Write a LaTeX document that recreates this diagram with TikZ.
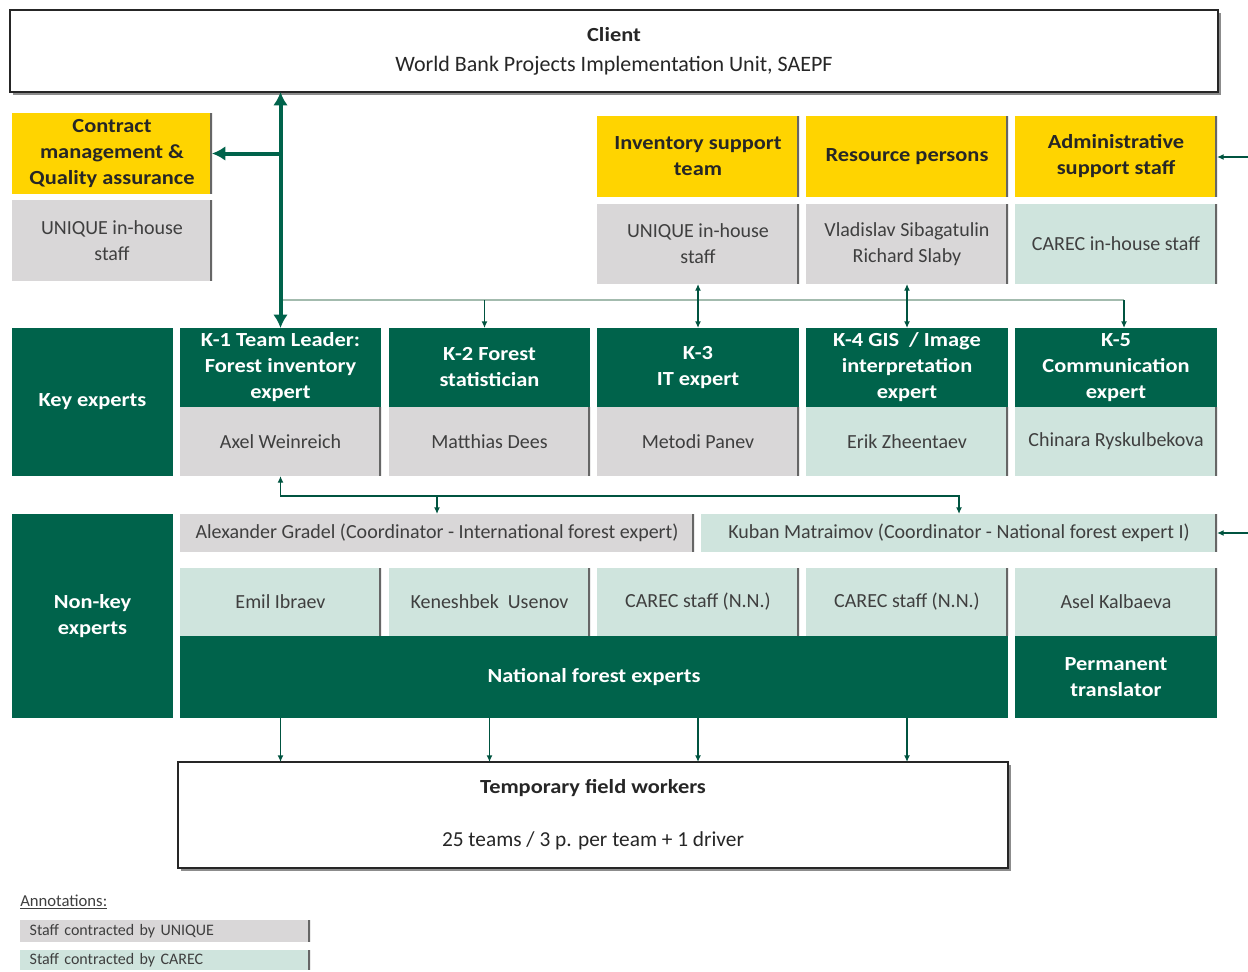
\documentclass[tikz,border=0pt]{standalone}
\usepackage{fontspec}
\setmainfont{Carlito}[BoldFeatures={FakeStretch=1.12}]
\usetikzlibrary{arrows.meta}
\definecolor{dgreen}{HTML}{00634B}
\definecolor{ylw}{HTML}{FFD400}
\definecolor{gry}{HTML}{D9D7D8}
\definecolor{ltteal}{HTML}{CFE4DD}
\definecolor{txtgray}{HTML}{3F3F3F}
\definecolor{busgray}{HTML}{A3BBAE}
\newcommand{\fsmain}{\fontsize{15}{19.5}\selectfont}
\newcommand{\fsbig}{\fontsize{16.5}{19.5}\selectfont}
\newcommand{\bx}[7]{\node[#6, minimum width={(#4-#2)*0.75pt}, minimum height={(#5-#3)*0.75pt}] (#1) at ({(#2+#4)/2},{(#3+#5)/2}) {#7};}
\tikzset{
  base/.style={inner sep=2pt, outer sep=0pt, align=center, font=\fsmain},
  redge/.style={path picture={\draw[black!60, line width=2.4pt] (path picture bounding box.north east) -- (path picture bounding box.south east);}},
  ybox/.style={base, redge, fill=ylw, text=black!85, font=\fsmain\bfseries},
  gbox/.style={base, redge, fill=gry, text=txtgray},
  tbox/.style={base, redge, fill=ltteal, text=txtgray},
  ghead/.style={base, fill=dgreen, text=white, font=\fsmain\bfseries},
  glabel/.style={base, fill=dgreen, text=white, font=\fsmain\bfseries},
  framebox/.style={base, draw=black!85, line width=1.6pt, fill=white, text=black!85},
  legend/.style={inner xsep=7pt, inner ysep=0pt, outer sep=0pt, text width=203pt, align=left, font=\fontsize{12}{14}\selectfont},
  thickarr/.style={draw=dgreen, line width=3pt},
  thinarr/.style={draw=dgreen!85!black, line width=1.1pt},
  busline/.style={draw=busgray, line width=1.6pt},
}
\begin{document}
\begin{tikzpicture}[x=0.75pt, y=-0.75pt]
\fill[white] (0,0) rectangle (1248,971);
\useasboundingbox (0,0) rectangle (1248,971);

% client
\fill[black!45] (13,13) rectangle (1221,95);
\bx{client}{10}{10}{1218}{92}{framebox}{\textbf{Client}\\[3pt]{\fsbig World Bank Projects Implementation Unit, SAEPF}}

% top support boxes
\bx{cmq}{12}{113}{212}{194}{ybox}{Contract\\management \&\\Quality assurance}
\bx{cmqs}{12}{200}{212}{281}{gbox}{UNIQUE in-house\\staff}
\bx{ist}{597}{116}{799}{197}{ybox}{Inventory support\\team}
\bx{ists}{597}{204}{799}{284}{gbox}{UNIQUE in-house\\staff}
\bx{rp}{806}{116}{1008}{197}{ybox}{Resource persons}
\bx{rps}{806}{204}{1008}{284}{gbox}{Vladislav Sibagatulin\\Richard Slaby}
\bx{adm}{1015}{116}{1217}{197}{ybox}{Administrative\\support staff}
\bx{adms}{1015}{204}{1217}{284}{tbox}{CAREC in-house staff}

% key experts
\bx{key}{12}{328}{173}{476}{glabel}{Key experts}
\bx{k1}{180}{328}{381}{407}{ghead}{K-1 Team Leader:\\Forest inventory\\expert}
\bx{k1s}{180}{407}{381}{476}{gbox}{Axel Weinreich}
\bx{k2}{389}{328}{590}{407}{ghead}{K-2 Forest\\statistician}
\bx{k2s}{389}{407}{590}{476}{gbox}{Matthias Dees}
\bx{k3}{597}{328}{799}{407}{ghead}{K-3\\IT expert}
\bx{k3s}{597}{407}{799}{476}{gbox}{Metodi Panev}
\bx{k4}{806}{328}{1008}{407}{ghead}{K-4 GIS~ / Image\\interpretation\\expert}
\bx{k4s}{806}{407}{1008}{476}{tbox}{Erik Zheentaev}
\bx{k5}{1015}{328}{1217}{407}{ghead}{K-5\\Communication\\expert}
\bx{k5s}{1015}{407}{1217}{476}{tbox}{Chinara Ryskulbekova}

% non-key experts
\bx{nonkey}{12}{514}{173}{718}{glabel}{Non-key\\experts}
\bx{alex}{180}{514}{694}{552}{gbox}{Alexander Gradel (Coordinator - International forest expert)}
\bx{kuban}{701}{514}{1217}{552}{tbox}{Kuban Matraimov (Coordinator - National forest expert I)}
\bx{emil}{180}{568}{381}{636}{tbox}{Emil Ibraev}
\bx{kene}{389}{568}{590}{636}{tbox}{Keneshbek~ Usenov}
\bx{cs1}{597}{568}{799}{636}{tbox}{CAREC staff (N.N.)}
\bx{cs2}{806}{568}{1008}{636}{tbox}{CAREC staff (N.N.)}
\bx{asel}{1015}{568}{1217}{636}{tbox}{Asel Kalbaeva}
\bx{nfe}{180}{636}{1008}{718}{ghead}{National forest experts}
\bx{pt}{1015}{636}{1217}{718}{ghead}{Permanent\\translator}

% temporary field workers
\fill[black!45] (181,765) rectangle (1011,871);
\bx{tfw}{178}{762}{1008}{868}{framebox}{\textbf{Temporary field workers}\\[20pt]{\fontsize{16}{19.5}\selectfont 25 teams / 3 p. per team + 1 driver}}

% annotations
\node[anchor=west, inner sep=0pt, text=txtgray, font=\fontsize{12.5}{14}\selectfont] (ann) at (20,902) {\underline{Annotations:}};
\bx{leg1}{20}{920}{310}{942}{gbox, legend}{Staff contracted by UNIQUE}
\bx{leg2}{20}{950}{310}{970}{tbox, legend}{Staff contracted by CAREC}

% connectors
\coordinate (bus) at (600,300);
\coordinate (bus2) at (600,496);
\coordinate (r1) at (1248,157);
\coordinate (r2) at (1248,533);
\coordinate (k2in) at ([xshift=-3.75pt]k2.north);
\coordinate (k5in) at ([xshift=6pt]k5.north);

\draw[busline] (k1.north |- bus) -- (k5in |- bus);
\draw[thinarr, -{Latex[length=5pt,width=4.5pt]}] (k5in |- bus) -- (k5in);
\draw[thinarr, -{Latex[length=5pt,width=4.5pt]}] (k2in |- bus) -- (k2in);
\draw[thinarr, {Latex[length=5pt,width=4.5pt]}-{Latex[length=5pt,width=4.5pt]}] (ists.south) -- (k3.north);
\draw[thinarr, {Latex[length=5pt,width=4.5pt]}-{Latex[length=5pt,width=4.5pt]}] (rps.south) -- (k4.north);

\draw[thickarr, {Latex[length=10pt,width=11pt]}-{Latex[length=10pt,width=11pt]}] (k1.north |- client.south) -- (k1.north);
\draw[thickarr, -{Latex[length=10pt,width=11pt]}] (k1.north |- cmq.east) -- (cmq.east);

\draw[thinarr, {Latex[length=5pt,width=4.5pt]}-{Latex[length=5pt,width=4.5pt]}] (k1s.south) |- (bus2) -| (kuban.north);
\draw[thinarr, -{Latex[length=5pt,width=4.5pt]}] (alex.north |- bus2) -- (alex.north);

\draw[thinarr, -{Latex[length=5pt,width=4.5pt]}] (r1) -- (adm.east |- r1);
\draw[thinarr, -{Latex[length=5pt,width=4.5pt]}] (r2) -- (kuban.east |- r2);

\foreach \n in {emil,kene,cs1,cs2}
  \draw[thinarr, -{Latex[length=5pt,width=4.5pt]}] (\n.center |- nfe.south) -- (\n.center |- tfw.north);
\end{tikzpicture}
\end{document}
